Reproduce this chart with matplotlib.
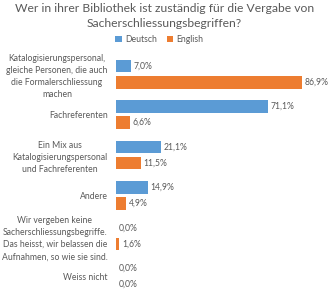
import numpy as np
import matplotlib.pyplot as plt

plt.rcParams['font.family'] = ['Lato', 'DejaVu Sans']

categories = [
    'Katalogisierungspersonal,\ngleiche Personen, die auch\ndie Formalerschliessung\nmachen',
    'Fachreferenten',
    'Ein Mix aus\nKatalogisierungspersonal\nund Fachreferenten',
    'Andere',
    'Wir vergeben keine\nSacherschliessungsbegriffe.\nDas heisst, wir belassen die\nAufnahmen, so wie sie sind.',
    'Weiss nicht',
]
deutsch = [7.0, 71.1, 21.1, 14.9, 0.0, 0.0]
english = [86.9, 6.6, 11.5, 4.9, 1.6, 0.0]

blue = '#5B9BD5'
orange = '#ED7D31'
grey = '#595959'

fig = plt.figure(figsize=(3.29, 2.93), dpi=100)
ax = fig.add_axes([0.3526, 0.0, 0.65, 0.816])

y = np.arange(len(categories))
h = 0.31
off = 0.2
b1 = ax.barh(y - off, deutsch, height=h, color=blue, label='Deutsch')
b2 = ax.barh(y + off, english, height=h, color=orange, label='English')

for bars, vals in ((b1, deutsch), (b2, english)):
    for bar, v in zip(bars, vals):
        ax.text(v + 1.2, bar.get_y() + bar.get_height() / 2,
                f'{v:.1f}%'.replace('.', ','),
                va='center', ha='left', fontsize=6.2, color=grey)

ax.set_xlim(0, 100)
ax.set_ylim(5.41, -0.5)
ax.set_yticks(y)
ax.set_yticklabels(categories, fontsize=6.2, color=grey, multialignment='center',
                   linespacing=1.45)
ax.tick_params(axis='y', length=0, pad=6)
ax.set_xticks([])
for s in ax.spines.values():
    s.set_visible(False)

fig.text(0.5, 0.99, 'Wer in ihrer Bibliothek ist zuständig für die Vergabe von\nSacherschliessungsbegriffen?',
         ha='center', va='top', fontsize=8.7, color=grey, linespacing=1.4)

fig.legend(handles=[b1, b2], loc='center', bbox_to_anchor=(0.485, 0.866), ncol=2,
           frameon=False, fontsize=6.2, labelcolor=grey, handlelength=0.7,
           handleheight=0.7, handletextpad=0.4, columnspacing=1.2)

fig.savefig('out.png', dpi=100)
